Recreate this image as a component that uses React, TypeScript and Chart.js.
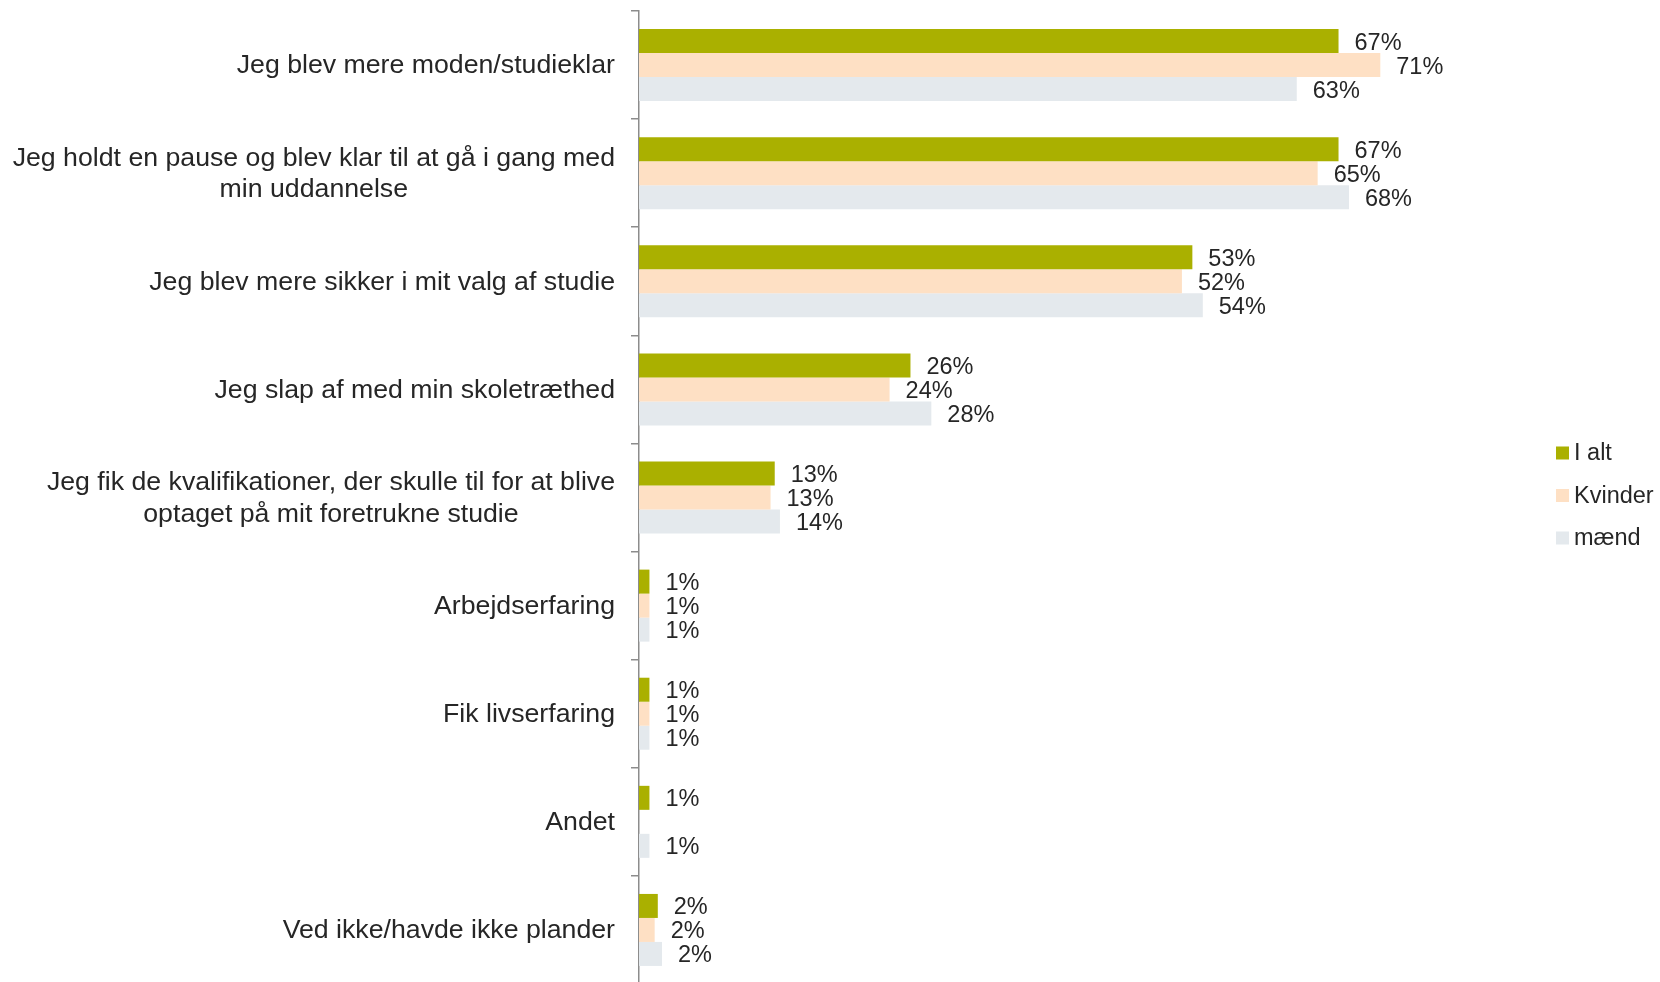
import React, { useEffect, useRef } from 'react';
import { Chart, registerables } from 'chart.js';

Chart.register(...registerables);

// Kategorier (linjeskift som i originalen)
const categories: (string | string[])[] = [
  'Jeg blev mere moden/studieklar',
  ['Jeg holdt en pause og blev klar til at gå i gang med', 'min uddannelse'],
  'Jeg blev mere sikker i mit valg af studie',
  'Jeg slap af med min skoletræthed',
  ['Jeg fik de kvalifikationer, der skulle til for at blive', 'optaget på mit foretrukne studie'],
  'Arbejdserfaring',
  'Fik livserfaring',
  'Andet',
  'Ved ikke/havde ikke plander',
];

const seriesNames = ['I alt', 'Kvinder', 'mænd'];
const ialt = [67, 67, 53, 26, 13, 1, 1, 1, 1.8];
const kvinder = [71, 65, 52, 24, 12.6, 1, 1, null, 1.5];
const maend = [63, 68, 54, 28, 13.5, 1, 1, 1, 2.2];

const colors = ['#aab000', '#fee0c4', '#e4e9ed'];
const FONT = "'Liberation Sans', Arial, sans-serif";
const TEXT = '#262626';

const labelsPlugin = {
  id: 'labelsPlugin',
  afterDraw(chart: any) {
    const ctx = chart.ctx;
    const yScale = chart.scales.y;
    const area = chart.chartArea;
    ctx.save();

    // kategoritekster, højrestillet blok med centrerede linjer
    ctx.font = `26.7px ${FONT}`;
    ctx.fillStyle = TEXT;
    ctx.textBaseline = 'middle';
    ctx.textAlign = 'center';
    const right = area.left - 24;
    const lineH = 31.8;
    categories.forEach((c, i) => {
      const lines = Array.isArray(c) ? c : [c];
      const widest = Math.max(...lines.map((l) => ctx.measureText(l).width));
      const cy = yScale.getPixelForValue(i) + 1;
      const x = right - widest / 2;
      lines.forEach((l, j) => {
        ctx.fillText(l, x, cy + (j - (lines.length - 1) / 2) * lineH);
      });
    });

    // dataetiketter
    ctx.font = `23.5px ${FONT}`;
    ctx.textAlign = 'left';
    chart.data.datasets.forEach((ds: any, di: number) => {
      const meta = chart.getDatasetMeta(di);
      meta.data.forEach((bar: any, i: number) => {
        const v = ds.data[i];
        if (v === null || v === undefined) return;
        ctx.fillText(Math.round(v) + '%', bar.x + 16, bar.y + 2);
      });
    });

    // forklaring
    ctx.font = `23.5px ${FONT}`;
    const mid = (area.top + area.bottom) / 2 - 2;
    seriesNames.forEach((name, i) => {
      const cy = mid + (i - 1) * 42.5;
      ctx.fillStyle = colors[i];
      ctx.fillRect(1556, cy - 6.5, 13, 13);
      ctx.fillStyle = TEXT;
      ctx.fillText(name, 1574, cy + 1);
    });
    ctx.restore();
  },
};

const App: React.FC = () => {
  const canvasRef = useRef<HTMLCanvasElement>(null);

  useEffect(() => {
    document.body.style.margin = '0';
    if (!canvasRef.current) return;
    const chart = new Chart(canvasRef.current, {
      type: 'bar',
      data: {
        labels: categories.map((c) => (Array.isArray(c) ? c.join(' ') : c)),
        datasets: [
          { label: seriesNames[0], data: ialt, backgroundColor: colors[0] },
          { label: seriesNames[1], data: kvinder, backgroundColor: colors[1] },
          { label: seriesNames[2], data: maend, backgroundColor: colors[2] },
        ],
      },
      options: {
        indexAxis: 'y',
        responsive: true,
        maintainAspectRatio: false,
        animation: false,
        layout: { padding: { top: 11, bottom: 6, left: 0, right: 192 } },
        datasets: {
          bar: { categoryPercentage: 0.666, barPercentage: 1.0, borderWidth: 0 },
        },
        plugins: {
          legend: { display: false },
          tooltip: { enabled: false },
        },
        scales: {
          x: { display: false, min: 0, max: 79.4 },
          y: {
            ticks: { display: false },
            grid: {
              offset: true,
              drawOnChartArea: false,
              drawTicks: true,
              tickLength: 8,
              color: '#8c8c8c',
              lineWidth: 1.5,
            },
            border: { display: true, color: '#8c8c8c', width: 1.5 },
            afterFit: (axis: any) => {
              axis.width = 639;
            },
          },
        },
      },
      plugins: [labelsPlugin],
    } as any);
    return () => chart.destroy();
  }, []);

  return (
    <div style={{ position: 'fixed', left: 0, top: 0, width: 1660, height: 982, overflow: 'hidden', background: '#fff' }}>
      <div style={{ width: 1660, height: 990 }}>
        <canvas ref={canvasRef}></canvas>
      </div>
    </div>
  );
};

export default App;
